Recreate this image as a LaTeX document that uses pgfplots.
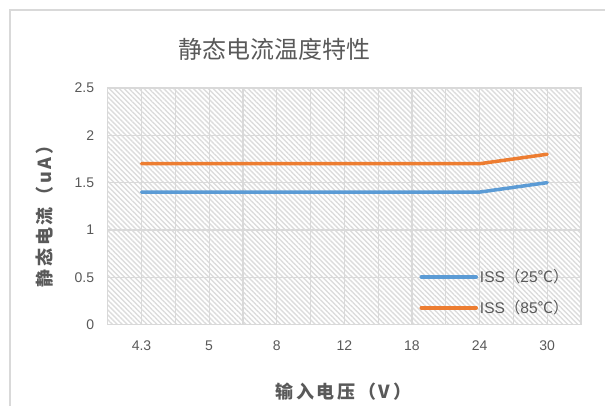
\documentclass[border=0pt]{standalone}
\usepackage{fontspec}
\setmainfont{Liberation Sans}
\newfontfamily\cjk{Noto Sans CJK SC}
\newfontfamily\cjklab[LetterSpace=15]{Noto Sans CJK SC}
\usepackage{pgfplots}
\pgfplotsset{compat=1.18}
\usetikzlibrary{patterns.meta}
\definecolor{txtgray}{HTML}{595959}
\definecolor{gridgray}{HTML}{D9D9D9}
\definecolor{hatch}{HTML}{DCDCDC}
\definecolor{issblue}{HTML}{5B9BD5}
\definecolor{issorange}{HTML}{ED7D31}

\begin{document}
\begin{tikzpicture}
\useasboundingbox (0pt,0pt) rectangle (605pt,405pt);
\draw[gridgray, line width=1.5pt] (10pt,-10pt) -- (10pt,395pt) -- (620pt,395pt);
\begin{axis}[
    at={(107.7pt,80.4pt)}, anchor=south west,
    scale only axis, width=473.3pt, height=236.6pt,
    xmin=-0.5, xmax=6.5, ymin=0, ymax=2.5,
    xtick={0,...,6},
    xticklabels={4.3,5,8,12,18,24,30},
    ytick={0,0.5,...,2.5},
    minor x tick num=1,
    major tick length=0pt, minor tick length=0pt,
    xmajorgrids, xminorgrids, ymajorgrids,
    grid style={gridgray, line width=1.2pt},
    minor grid style={gridgray, line width=1.2pt},
    axis line style={gridgray, line width=1.2pt},
    /pgf/number format/assume math mode=true,
    ticklabel style={font=\fontsize{14}{16}\selectfont, text=txtgray},
    yticklabel style={xshift=-10pt},
    xticklabel style={yshift=-13pt},
    title={\cjk 静态电流温度特性},
    title style={at={(axis description cs:0.352,1.14)}, anchor=center,
        font=\fontsize{24}{28}\selectfont, text=txtgray},
    xlabel={\cjklab\bfseries 输入电压（V）},
    xlabel style={at={(axis description cs:0.498,-0.285)}, anchor=center,
        font=\fontsize{18}{20}\selectfont, text=txtgray},
    ylabel={\cjklab\bfseries 静态电流（uA）},
    ylabel style={at={(axis description cs:-0.1331,0.476)}, anchor=center,
        font=\fontsize{18}{20}\selectfont, text=txtgray},
    legend style={draw=none, fill=none, at={(axis description cs:0.652,0.25)},
        anchor=north west, font=\fontsize{15.5}{18}\selectfont, text=txtgray,
        row sep=12pt, cells={anchor=west}},
    legend image code/.code={\draw[#1] (0pt,0pt) -- (55pt,0pt);},
    every axis plot/.append style={line width=3.5pt, line cap=round, line join=round},
    axis background/.style={pattern={Lines[angle=-45, distance=3.5pt, line width=1.4pt]},
        pattern color=hatch},
]
\addplot[issblue] coordinates {(0,1.4) (1,1.4) (2,1.4) (3,1.4) (4,1.4) (5,1.4) (6,1.5)};
\addlegendentry{ISS{\cjk （}25{\cjk ℃）}}
\addplot[issorange] coordinates {(0,1.7) (1,1.7) (2,1.7) (3,1.7) (4,1.7) (5,1.7) (6,1.8)};
\addlegendentry{ISS{\cjk （}85{\cjk ℃）}}
\end{axis}
\end{tikzpicture}
\end{document}
